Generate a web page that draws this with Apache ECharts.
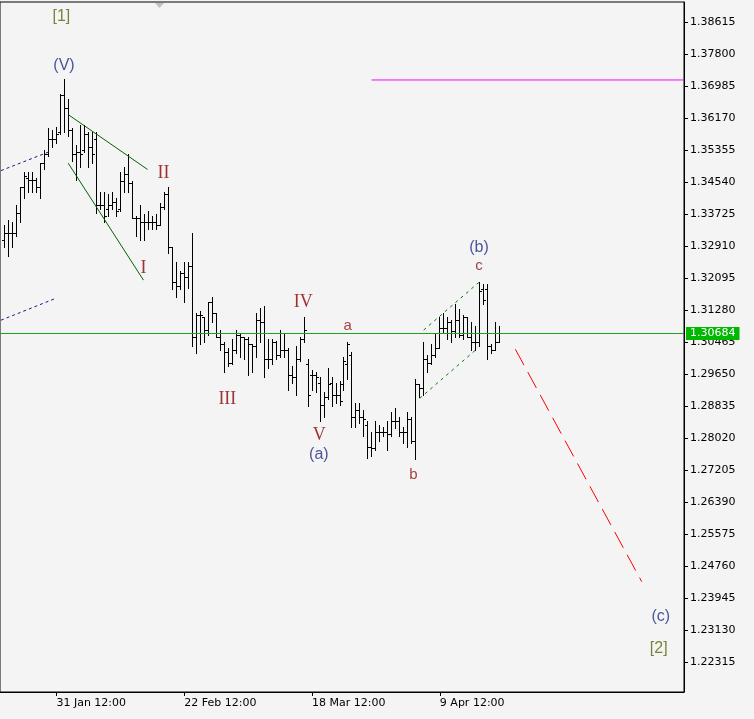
<!DOCTYPE html>
<html><head><meta charset="utf-8">
<script src="https://cdn.jsdelivr.net/npm/echarts@6/dist/echarts.min.js"></script>
<style>html,body{margin:0;padding:0;background:#f4f4f4}#c{width:754px;height:719px}</style>
</head><body><div id="c"></div>
<script>
// ---- data ----
const barOpen = [1.3306,1.3322,1.3324,1.3322,1.3375,1.3439,1.3464,1.3457,1.3457,1.3441,
1.3500,1.3523,1.3563,1.3563,1.3581,1.3673,1.3642,1.3586,1.3523,1.3528,
1.3535,1.3574,1.3543,1.3561,1.3395,1.3395,1.3383,1.3395,1.3403,1.3383,
1.3454,1.3474,1.3451,1.3362,1.3362,1.3350,1.3352,1.3350,1.3350,1.3344,
1.3388,1.3421,1.3286,1.3199,1.3187,1.3222,1.3212,1.3238,1.3059,1.3115,
1.3108,1.3077,1.3146,1.3120,1.3057,1.3039,1.3021,1.2993,1.3026,1.3064,
1.3059,1.3052,1.3039,1.3034,1.3102,1.3097,1.3001,1.3001,1.3046,1.3013,
1.3026,1.3026,1.2962,1.2957,1.3001,1.3052,1.2988,1.2962,1.2962,1.2942,
1.2886,1.2906,1.2942,1.2911,1.2911,1.2937,1.2988,1.3013,1.2853,1.2873,
1.2855,1.2835,1.2777,1.2774,1.2815,1.2817,1.2817,1.2810,1.2843,1.2843,
1.2815,1.2817,1.2848,1.2792,1.2937,1.2929,1.3001,1.2993,1.3013,1.3031,
1.3082,1.3082,1.3097,1.3072,1.3102,1.3064,1.3108,1.3057,1.3046,1.3044,
1.3179,1.3179,1.3034,1.3026,1.3046];
const barHigh = [1.3344,1.3357,1.3352,1.3395,1.3441,1.3479,1.3477,1.3479,1.3464,1.3502,
1.3535,1.3591,1.3586,1.3594,1.3676,1.3714,1.3663,1.3591,1.3548,1.3599,
1.3599,1.3579,1.3579,1.3579,1.3426,1.3428,1.3421,1.3428,1.3413,1.3477,
1.3492,1.3523,1.3454,1.3365,1.3395,1.3370,1.3378,1.3365,1.3370,1.3400,
1.3426,1.3439,1.3288,1.3248,1.3225,1.3248,1.3248,1.3324,1.3120,1.3123,
1.3108,1.3148,1.3161,1.3120,1.3077,1.3046,1.3031,1.3052,1.3077,1.3069,
1.3059,1.3057,1.3039,1.3120,1.3133,1.3136,1.3052,1.3052,1.3049,1.3077,
1.3069,1.3031,1.2983,1.3034,1.3057,1.3108,1.3001,1.2975,1.2968,1.2957,
1.2919,1.2980,1.2957,1.2942,1.2945,1.3008,1.3046,1.3021,1.2891,1.2891,
1.2873,1.2843,1.2817,1.2843,1.2835,1.2830,1.2843,1.2868,1.2878,1.2855,
1.2830,1.2866,1.2855,1.2950,1.2937,1.3044,1.3013,1.3039,1.3069,1.3108,
1.3120,1.3108,1.3102,1.3141,1.3128,1.3115,1.3108,1.3095,1.3085,1.3199,
1.3192,1.3192,1.3039,1.3097,1.3085];
const barLow = [1.3286,1.3263,1.3288,1.3314,1.3352,1.3413,1.3428,1.3428,1.3428,1.3413,
1.3485,1.3520,1.3543,1.3553,1.3574,1.3581,1.3569,1.3505,1.3459,1.3492,
1.3530,1.3492,1.3502,1.3375,1.3383,1.3352,1.3365,1.3383,1.3365,1.3378,
1.3426,1.3426,1.3362,1.3314,1.3306,1.3306,1.3332,1.3332,1.3332,1.3344,
1.3383,1.3273,1.3179,1.3161,1.3179,1.3146,1.3184,1.3034,1.3018,1.3039,
1.3044,1.3064,1.3095,1.3057,1.3026,1.2968,1.2983,1.2988,1.3018,1.3008,
1.3001,1.2962,1.2970,1.3008,1.3046,1.2957,1.2980,1.2988,1.3001,1.3008,
1.3006,1.2924,1.2942,1.2911,1.2996,1.3046,1.2881,1.2924,1.2917,1.2843,
1.2855,1.2899,1.2881,1.2891,1.2886,1.2924,1.2950,1.2830,1.2830,1.2840,
1.2805,1.2751,1.2754,1.2771,1.2792,1.2805,1.2771,1.2805,1.2827,1.2805,
1.2789,1.2779,1.2789,1.2746,1.2904,1.2911,1.2970,1.2988,1.3006,1.3031,
1.3069,1.3052,1.3044,1.3059,1.3059,1.3052,1.3057,1.3026,1.3026,1.3034,
1.3141,1.3001,1.3018,1.3026,1.3044];
const barClose = [1.3322,1.3324,1.3322,1.3375,1.3439,1.3467,1.3457,1.3457,1.3441,1.3500,
1.3523,1.3563,1.3563,1.3574,1.3673,1.3642,1.3586,1.3523,1.3528,1.3523,
1.3574,1.3543,1.3523,1.3395,1.3395,1.3365,1.3395,1.3403,1.3378,1.3454,
1.3474,1.3451,1.3362,1.3362,1.3350,1.3352,1.3352,1.3350,1.3344,1.3388,
1.3421,1.3286,1.3199,1.3187,1.3222,1.3212,1.3238,1.3059,1.3115,1.3115,
1.3077,1.3146,1.3120,1.3057,1.3039,1.3021,1.2993,1.3026,1.3064,1.3059,
1.3052,1.3039,1.3034,1.3102,1.3097,1.3001,1.3001,1.3046,1.3013,1.3026,
1.3026,1.2962,1.2957,1.3001,1.3052,1.3077,1.2911,1.2962,1.2957,1.2886,
1.2906,1.2937,1.2911,1.2911,1.2894,1.2996,1.3039,1.2853,1.2873,1.2855,
1.2848,1.2777,1.2774,1.2815,1.2817,1.2817,1.2810,1.2843,1.2843,1.2815,
1.2817,1.2848,1.2792,1.2937,1.2929,1.3001,1.2993,1.3013,1.3031,1.3082,
1.3082,1.3097,1.3072,1.3102,1.3064,1.3108,1.3057,1.3046,1.3044,1.3174,
1.3153,1.3034,1.3026,1.3046,1.30684];

const xTickPos = [13, 45, 77, 109];
const xTickLabels = ['31 Jan 12:00', '22 Feb 12:00', '18 Mar 12:00', '9 Apr 12:00'];
const yTickValues = [1.38615,1.37800,1.36985,1.36170,1.35355,1.34540,1.33725,1.32910,1.32095,1.31280,
1.30465,1.29650,1.28835,1.28020,1.27205,1.26390,1.25575,1.24760,1.23945,1.23130,1.22315];

// trend lines / objects (bar index, price)
const wedgeUpper = [[16.05,1.3625],[35.8,1.3486]];
const wedgeLower = [[15.95,1.3502],[34.8,1.3204]];
const navyDash1 = [[-0.875,1.3483],[11.2,1.3531]];
const navyDash2 = [[-0.875,1.3102],[12.9,1.3158]];
const channelUpper = [[104.95,1.3077],[118.95,1.3200]];
const channelLower = [[103.95,1.2903],[117.95,1.3026]];
const projection = [[127.9,1.3028],[159.55,1.2436]];
const resistance = [[91.9,1.37138],[170.125,1.37138]];

// wave labels: [text, bar index, price]
const waveRoman = [['I',34.8,1.3234],['II',39.8,1.3475],['III',55.8,1.2901],['IV',74.8,1.3148],['V',78.8,1.2808]];
const waveMinor = [['(V)',14.9,1.3750],['(a)',78.7,1.2760],['(b)',118.8,1.3287],['(c)',164.3,1.2347]];
const waveSub = [['a',85.9,1.3088],['b',102.4,1.2708],['c',118.8,1.3240]];
const wavePrimary = [['[1]',14.25,1.3875],['[2]',163.8,1.2266]];

// ---- chart ----
const lastClose = barClose[barClose.length - 1];
const ohlc = barOpen.map((o, i) => [i, o, barClose[i], barLow[i], barHigh[i]]);

function renderOHLC(params, api) {
  const k = api.value(0);
  const pO = api.coord([k, api.value(1)]);
  const yC = api.coord([k, api.value(2)])[1];
  const yL = api.coord([k, api.value(3)])[1];
  const yH = api.coord([k, api.value(4)])[1];
  const px = Math.floor(pO[0]);
  const xc = px + 0.5;
  const ro = Math.floor(pO[1]) + 0.5;
  const rc = Math.floor(yC) + 0.5;
  const st = { stroke: '#000', lineWidth: 1 };
  return { type: 'group', children: [
    { type: 'line', shape: { x1: xc, y1: Math.floor(yH), x2: xc, y2: Math.floor(yL) + 1 }, style: st },
    { type: 'line', shape: { x1: px - 2, y1: ro, x2: px, y2: ro }, style: st },
    { type: 'line', shape: { x1: px + 1, y1: rc, x2: px + 3, y2: rc }, style: st }
  ]};
}

function lineSeries(data, color, type) {
  return { type: 'line', data: data, symbol: 'none', silent: true, animation: false,
    lineStyle: { color: color, width: 1, type: type }, z: 4 };
}
function labelSeries(items, color, family, size) {
  return { type: 'scatter', symbolSize: 1, silent: true, z: 6,
    itemStyle: { color: 'rgba(0,0,0,0)' },
    data: items.map(d => [d[1], d[2], d[0]]),
    label: { show: true, position: 'inside', formatter: p => p.data[2],
      color: color, fontFamily: family, fontSize: size } };
}

const chart = echarts.init(document.getElementById('c'), null, { renderer: 'canvas' });
chart.setOption({
  animation: false,
  backgroundColor: '#f4f4f4',
  grid: { left: -1, right: 70, top: 2, bottom: 27, show: true, borderColor: '#000', borderWidth: 1, backgroundColor: '#f4f4f4' },
  xAxis: {
    type: 'value', min: -1.125, max: 170.125,
    axisLine: { show: true, onZero: false, lineStyle: { color: '#000', width: 1 } },
    splitLine: { show: false },
    axisTick: { show: true, customValues: xTickPos, length: 4, lineStyle: { color: '#000' } },
    axisLabel: { customValues: xTickPos, align: 'left', margin: 6, color: '#000', fontFamily: 'DejaVu Sans', fontSize: 11,
      formatter: v => xTickLabels[xTickPos.indexOf(Math.round(v))] || '' }
  },
  yAxis: {
    type: 'value', position: 'right', min: 1.21551, max: 1.39124, scale: true,
    axisLine: { show: true, onZero: false, lineStyle: { color: '#000', width: 1 } },
    splitLine: { show: false },
    axisTick: { show: true, customValues: yTickValues, length: 4, lineStyle: { color: '#000' } },
    axisLabel: { customValues: yTickValues, margin: 6, color: '#000', fontFamily: 'DejaVu Sans', fontSize: 11,
      formatter: v => v.toFixed(5) }
  },
  series: [
    { type: 'custom', renderItem: renderOHLC, data: ohlc, encode: { x: 0, y: [1, 2, 3, 4] }, clip: true, silent: true, z: 3 },
    lineSeries(wedgeUpper, '#006400', 'solid'),
    lineSeries(wedgeLower, '#006400', 'solid'),
    lineSeries(navyDash1, '#1a1a80', [3, 3]),
    lineSeries(navyDash2, '#1a1a80', [3, 3]),
    lineSeries(channelUpper, '#008000', [3, 4]),
    lineSeries(channelLower, '#008000', [3, 4]),
    lineSeries(projection, '#ff0000', [18, 8]),
    lineSeries(resistance, '#ff00ff', 'solid'),
    { type: 'line', data: [], z: 8, silent: true,
      markLine: { symbol: 'none', silent: true, animation: false, precision: 5,
        lineStyle: { color: '#20a020', width: 1, type: 'solid' },
        label: { show: true, position: 'end', distance: 2, formatter: lastClose.toFixed(5),
          backgroundColor: '#00b800', color: '#fff', padding: [1, 4, 1, 4], fontFamily: 'DejaVu Sans', fontSize: 11 },
        data: [{ yAxis: lastClose }] } },
    labelSeries(waveRoman, '#8b0000', 'Liberation Serif', 18),
    labelSeries(waveMinor, '#1f2d85', 'Liberation Sans', 16),
    labelSeries(waveSub, '#8b1010', 'Liberation Sans', 15),
    labelSeries(wavePrimary, '#56680a', 'Liberation Sans', 16)
  ],
  graphic: [{ type: 'polygon', shape: { points: [[155, 3], [164, 3], [159.5, 8]] }, style: { fill: '#c0c0c0' }, z: 10 }]
});
</script>
</body></html>
